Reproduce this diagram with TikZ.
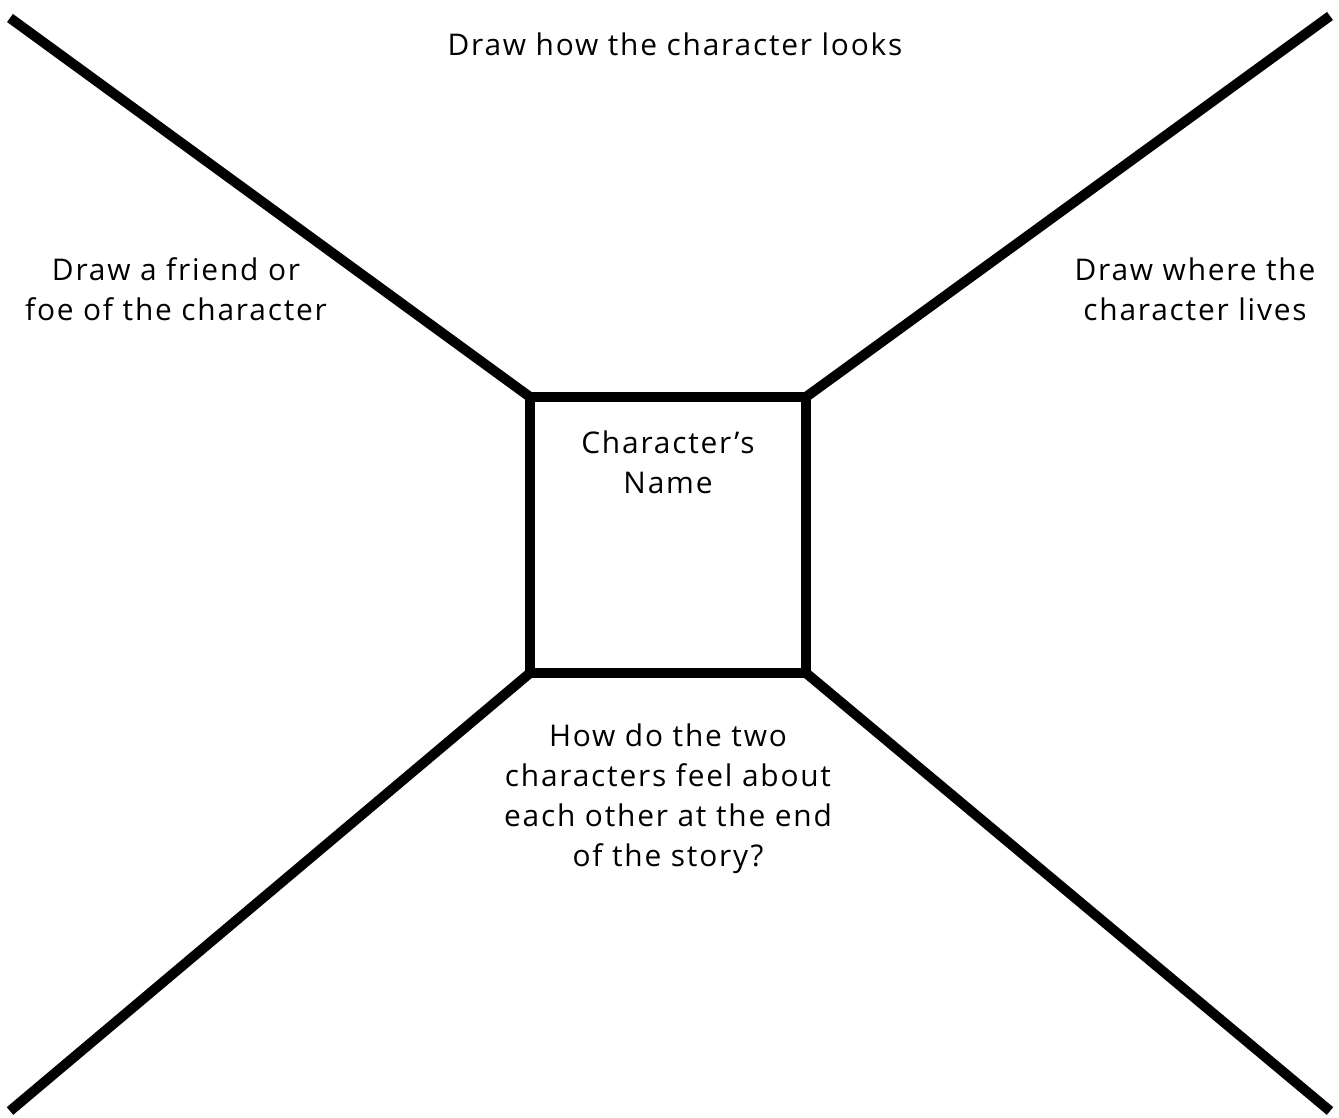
\documentclass[tikz,border=0pt]{standalone}
\usepackage{fontspec}
\setmainfont[LetterSpace=6]{Open Sans}
\usetikzlibrary{positioning}

\tikzset{
    thickline/.style={line width=0.2cm},
    prompt/.style={align=center, font=\fontsize{17}{22.8}\selectfont}
}

\begin{document}
\begin{tikzpicture}[x=0.02cm,y=-0.02cm]

    \def\sqsize{5.52cm}

    % page frame
    \useasboundingbox (0,0) rectangle (1339,1118);

    % name box
    \node[thickline, draw, outer sep=0pt, minimum width=\sqsize, minimum height=\sqsize] (namebox) at (668,535) {};
    \node[prompt, below=0.56cm of namebox.north] (name) {Character's\\Name};

    % outer ends of the four lines
    \coordinate (tl) at (10,18);
    \coordinate (tr) at (1330,16);
    \coordinate (bl) at (10,1111);
    \coordinate (br) at (1330,1111);

    % diagonals
    \draw[thickline] (tl) -- (namebox.north west);
    \draw[thickline] (tr) -- (namebox.north east);
    \draw[thickline] (bl) -- (namebox.south west);
    \draw[thickline] (br) -- (namebox.south east);

    % prompts
    \node[prompt] (looks) at (675,44) {Draw how the character looks};
    \node[prompt] (friend) at (176,289) {Draw a friend or\\foe of the character};
    \node[prompt] (lives) at (1195,289) {Draw where the\\character lives};
    \node[prompt] (feel) at (668,799) {How do the two\\characters feel about\\each other at the end\\of the story?};

\end{tikzpicture}
\end{document}
